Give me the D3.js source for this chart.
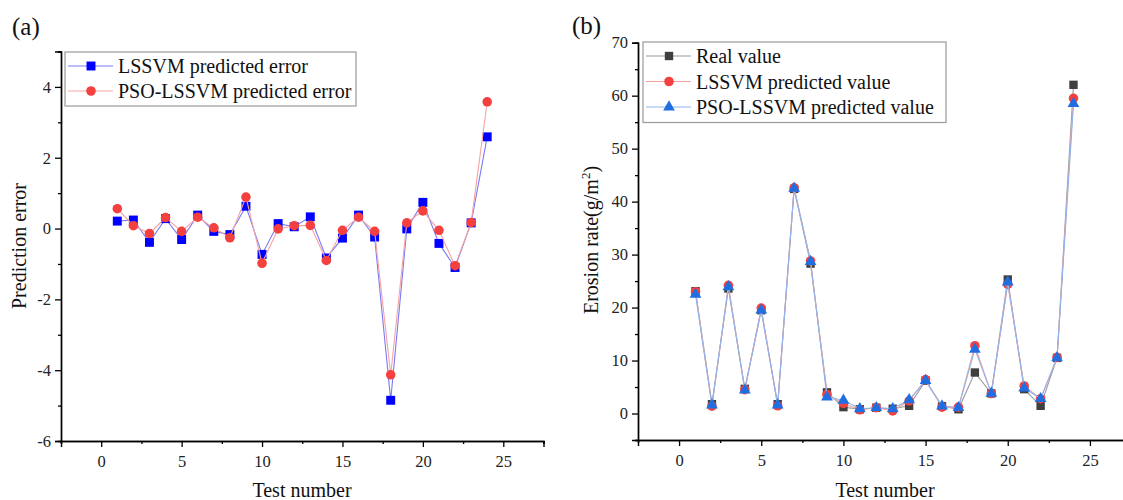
<!DOCTYPE html>
<html>
<head>
<meta charset="utf-8">
<script src="https://cdn.jsdelivr.net/npm/d3@7"></script>
<style>
  body { margin: 0; background: #fff; }
  svg { display: block; font-family: "Liberation Serif", "Times New Roman", serif; }
  svg text { font-family: "Liberation Serif", "Times New Roman", serif; }
</style>
</head>
<body>
<svg id="chart" width="1123" height="500"></svg>
<script>
// test numbers 1..24
var testNo = [1,2,3,4,5,6,7,8,9,10,11,12,13,14,15,16,17,18,19,20,21,22,23,24];

// panel (a) prediction errors
var lssvmErr = [0.21,0.24,-0.39,0.28,-0.31,0.38,-0.08,-0.17,0.63,-0.73,0.14,0.05,0.33,-0.83,-0.27,0.38,-0.24,-4.85,-0.01,0.74,-0.42,-1.10,0.16,2.59];
var psoErr   = [0.56,0.08,-0.14,0.31,-0.08,0.32,0.02,-0.26,0.89,-0.98,-0.01,0.08,0.09,-0.90,-0.05,0.32,-0.08,-4.13,0.16,0.50,-0.05,-1.05,0.17,3.58];

// panel (b) erosion rate
var realVal  = [23.1,1.76,23.6,4.66,19.5,1.76,42.4,28.3,4.0,1.2,0.8,1.1,0.9,1.45,6.2,1.4,0.8,7.74,3.8,25.3,4.6,1.45,10.5,62.05];
var lssvmVal = [23.0,1.4,24.2,4.5,19.9,1.45,42.6,28.8,3.6,1.9,0.7,1.1,0.5,2.4,6.4,1.2,1.2,12.8,3.8,24.4,5.2,2.8,10.6,59.5];
var psoVal   = [22.5,1.6,23.9,4.4,19.5,1.6,42.5,28.7,3.1,2.5,0.9,1.1,0.9,2.6,6.2,1.4,1.1,12.1,3.8,24.8,4.8,2.8,10.5,58.5];

var xMajor = [0,5,10,15,20,25];
var xMinor = [-2.5,2.5,7.5,12.5,17.5,22.5,27.5];
var yMajorA = [-6,-4,-2,0,2,4];
var yMinorA = [-5,-3,-1,1,3,5];
var yMajorB = [0,10,20,30,40,50,60,70];
var yMinorB = [-5,5,15,25,35,45,55,65];

var svg = d3.select("#chart");

function drawAxes(g, x, y, xMaj, xMin, yMaj, yMin) {
    var yBase = y.range()[0];
    var xBase = x.range()[0];
    // minor ticks first
    g.append("g").attr("transform", "translate(0," + yBase + ")")
        .call(d3.axisBottom(x).tickValues(xMin).tickSize(3).tickFormat(""));
    g.append("g").attr("transform", "translate(" + xBase + ",0)")
        .call(d3.axisLeft(y).tickValues(yMin).tickSize(3).tickFormat(""));
    g.append("g").attr("transform", "translate(0," + yBase + ")")
        .call(d3.axisBottom(x).tickValues(xMaj).tickSize(6).tickPadding(8).tickFormat(String));
    g.append("g").attr("transform", "translate(" + xBase + ",0)")
        .call(d3.axisLeft(y).tickValues(yMaj).tickSize(6).tickPadding(4).tickFormat(String));
    g.selectAll("g").attr("font-family", "Liberation Serif");
    g.selectAll(".domain").attr("stroke", "#000").attr("stroke-width", 1.4);
    g.selectAll(".tick line").attr("stroke", "#000").attr("stroke-width", 1.3);
    g.selectAll(".tick text").attr("font-size", 16.5).attr("fill", "#222");
}

function drawSeries(g, x, y, vals, lineColor, marker, fill, size) {
    var pts = testNo.map(function(t, i) { return [t, vals[i]]; });
    g.append("path")
        .datum(pts)
        .attr("fill", "none")
        .attr("stroke", lineColor)
        .attr("stroke-width", 1.1)
        .attr("d", d3.line().x(function(d) { return x(d[0]); }).y(function(d) { return y(d[1]); }));
    g.selectAll(null).data(pts).enter().append("path")
        .attr("transform", function(d) { return "translate(" + x(d[0]) + "," + y(d[1]) + ")"; })
        .attr("d", d3.symbol().type(marker).size(size))
        .attr("fill", fill);
}

function drawLegend(g, x0, y0, w, rowH, items) {
    g.append("rect").attr("x", x0).attr("y", y0).attr("width", w).attr("height", rowH * items.length + 4)
        .attr("fill", "#fff").attr("stroke", "#9a9a9a").attr("stroke-width", 1.2);
    items.forEach(function(it, i) {
        var cy = y0 + 14 + i * rowH;
        g.append("line").attr("x1", x0 + 3).attr("x2", x0 + 48).attr("y1", cy).attr("y2", cy)
            .attr("stroke", it.line).attr("stroke-width", 1.1);
        g.append("path").attr("transform", "translate(" + (x0 + 26) + "," + cy + ")")
            .attr("d", d3.symbol().type(it.marker).size(it.size)).attr("fill", it.fill);
        g.append("text").attr("x", x0 + 53).attr("y", cy + 7).attr("font-size", 20)
            .attr("fill", "#111").text(it.label);
    });
}

// ---------- panel (a) ----------
var xa = d3.scaleLinear().domain([-2.5, 27.5]).range([61, 543.5]);
var ya = d3.scaleLinear().domain([-6, 5]).range([441, 51.5]);
var ga = svg.append("g");
drawAxes(ga, xa, ya, xMajor, xMinor, yMajorA, yMinorA);
drawSeries(ga, xa, ya, lssvmErr, "#7a7af5", d3.symbolSquare, "#0000ff", 80);
drawSeries(ga, xa, ya, psoErr, "#f7a3a3", d3.symbolCircle, "#f54040", 72);
drawLegend(ga, 65, 52, 291, 25, [
    {label: "LSSVM predicted error", line: "#7a7af5", marker: d3.symbolSquare, fill: "#0000ff", size: 80},
    {label: "PSO-LSSVM predicted error", line: "#f7a3a3", marker: d3.symbolCircle, fill: "#f54040", size: 72}
]);
ga.append("text").attr("x", 12).attr("y", 35).attr("font-size", 25).attr("fill", "#111").text("(a)");
ga.append("text").attr("x", 302).attr("y", 497).attr("text-anchor", "middle")
    .attr("font-size", 20).attr("fill", "#111").text("Test number");
ga.append("text").attr("transform", "translate(26,246) rotate(-90)").attr("text-anchor", "middle")
    .attr("font-size", 20).attr("fill", "#111").text("Prediction error");

// ---------- panel (b) ----------
var xb = d3.scaleLinear().domain([-2.5, 27.5]).range([638, 1131]);
var yb = d3.scaleLinear().domain([-5, 70]).range([440, 42.7]);
var gb = svg.append("g");
drawAxes(gb, xb, yb, xMajor, xMinor, yMajorB, yMinorB);
drawSeries(gb, xb, yb, realVal, "#9a9a9a", d3.symbolSquare, "#3f3f3f", 70);
drawSeries(gb, xb, yb, lssvmVal, "#f5a0a0", d3.symbolCircle, "#f54040", 72);
drawSeries(gb, xb, yb, psoVal, "#8fb4ee", d3.symbolTriangle, "#1f6fe3", 60);
drawLegend(gb, 643, 42, 303, 25.5, [
    {label: "Real value", line: "#9a9a9a", marker: d3.symbolSquare, fill: "#3f3f3f", size: 70},
    {label: "LSSVM predicted value", line: "#f5a0a0", marker: d3.symbolCircle, fill: "#f54040", size: 72},
    {label: "PSO-LSSVM predicted value", line: "#8fb4ee", marker: d3.symbolTriangle, fill: "#1f6fe3", size: 60}
]);
gb.append("text").attr("x", 572).attr("y", 34).attr("font-size", 25).attr("fill", "#111").text("(b)");
gb.append("text").attr("x", 885).attr("y", 497).attr("text-anchor", "middle")
    .attr("font-size", 20).attr("fill", "#111").text("Test number");
var yt = gb.append("text").attr("transform", "translate(598,240) rotate(-90)").attr("text-anchor", "middle")
    .attr("font-size", 20).attr("fill", "#111");
yt.append("tspan").text("Erosion rate(g/m");
yt.append("tspan").attr("font-size", 13).attr("dy", -8).text("2");
yt.append("tspan").attr("dy", 8).text(")");
</script>
</body>
</html>
